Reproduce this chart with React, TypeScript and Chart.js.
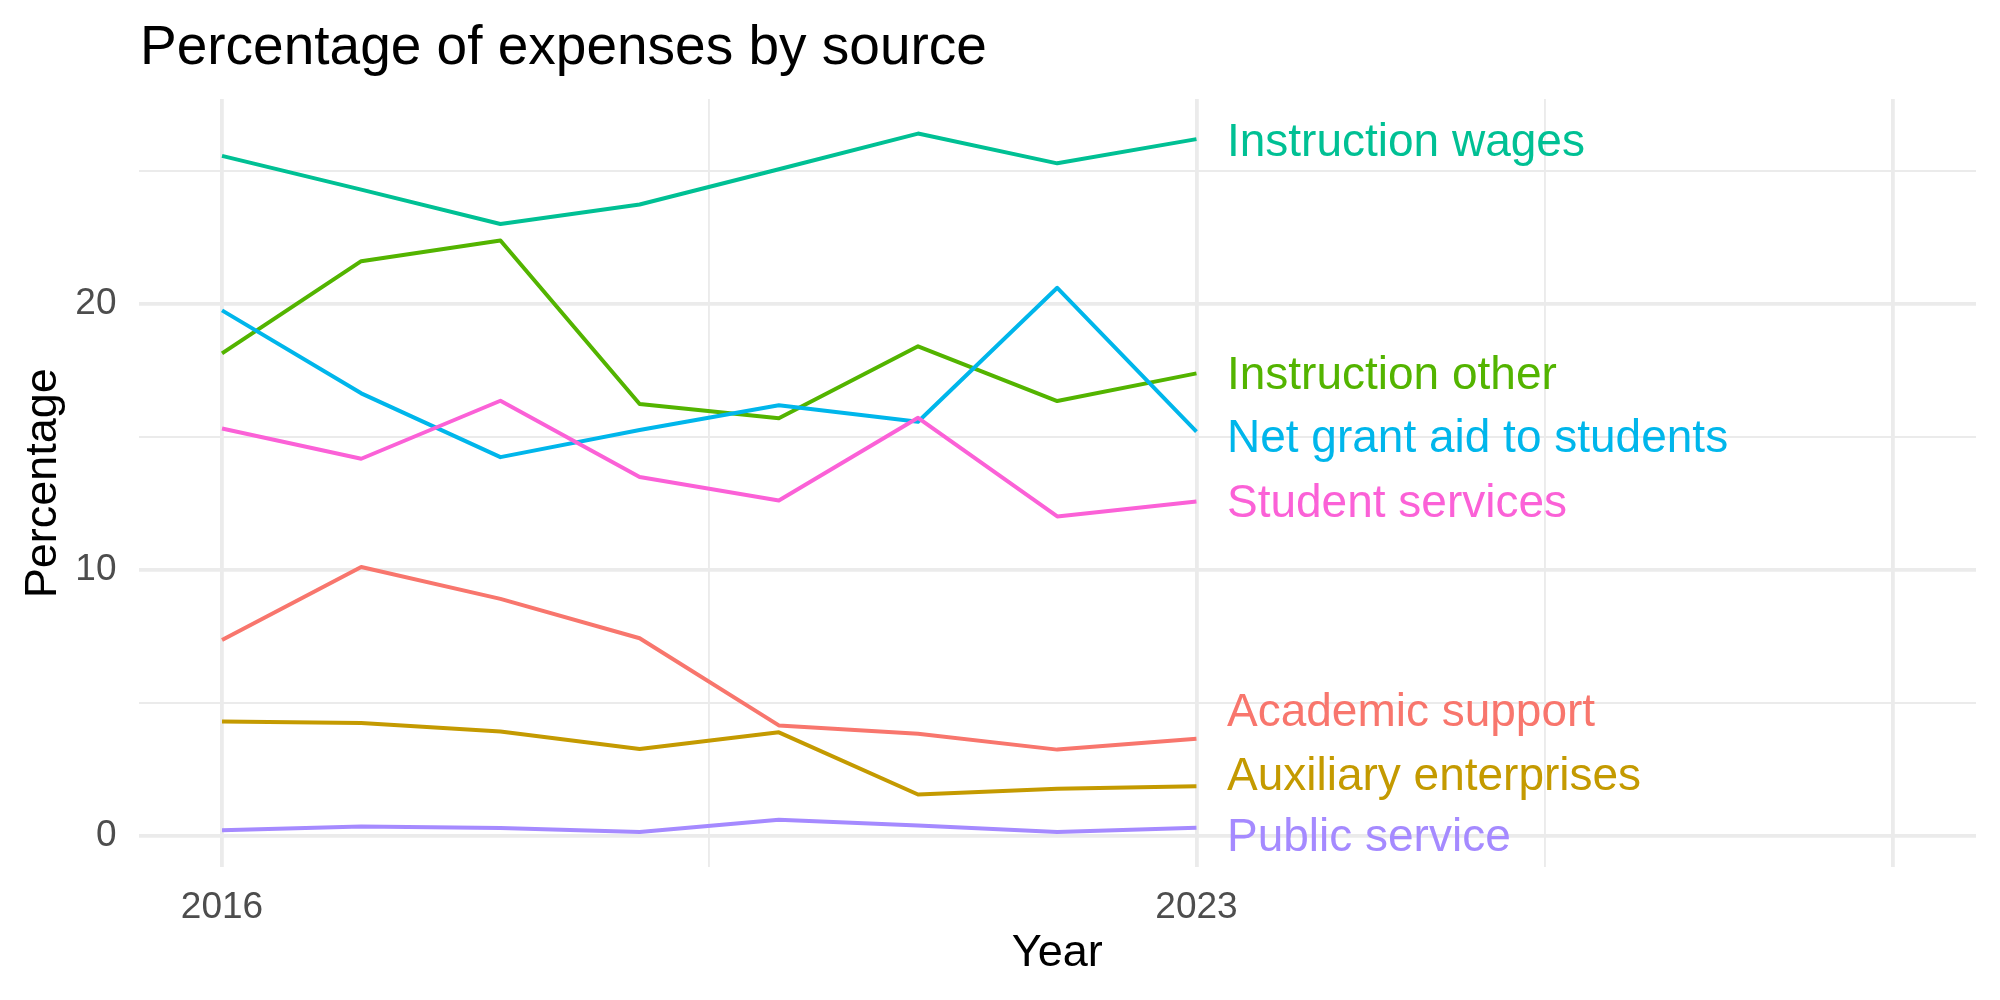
import React, { useEffect, useRef } from "react";
import { Chart, registerables } from "chart.js";

Chart.register(...registerables);

// ---- Data ----
const years = [2016, 2017, 2018, 2019, 2020, 2021, 2022, 2023];
const seriesNames = [
  "Academic support",
  "Auxiliary enterprises",
  "Instruction other",
  "Instruction wages",
  "Net grant aid to students",
  "Public service",
  "Student services",
];
const academicSupport = [7.35, 10.1, 8.9, 7.42, 4.14, 3.83, 3.23, 3.64];
const auxiliaryEnterprises = [4.29, 4.23, 3.91, 3.25, 3.88, 1.54, 1.76, 1.85];
const instructionOther = [18.13, 21.6, 22.38, 16.23, 15.69, 18.4, 16.34, 17.38];
const instructionWages = [25.56, 24.29, 23.0, 23.73, 25.06, 26.4, 25.28, 26.19];
const netGrantAid = [19.75, 16.63, 14.23, 15.25, 16.18, 15.56, 20.6, 15.19];
const publicService = [0.2, 0.34, 0.28, 0.13, 0.59, 0.38, 0.13, 0.29];
const studentServices = [15.31, 14.17, 16.35, 13.48, 12.6, 15.71, 12.0, 12.56];
const seriesValues = [
  academicSupport,
  auxiliaryEnterprises,
  instructionOther,
  instructionWages,
  netGrantAid,
  publicService,
  studentServices,
];
// repelled end-label positions (in data units)
const labelYValues = [4.73, 2.34, 17.42, 26.19, 15.06, 0.02, 12.61];
const labelYear = 2023;

const xTickLabels = [2016, 2023];
const xMajorBreaks = [2016, 2023, 2028];
const xMinorBreaks = [2019.5, 2025.5];
const yMajorBreaks = [0, 10, 20];
const yMinorBreaks = [5, 15, 25];

const titleText = "Percentage of expenses by source";
const xTitle = "Year";
const yTitle = "Percentage";

// ---- Styles ----
const colors = ["#F8766D", "#C49A00", "#53B400", "#00C094", "#00B6EB", "#A58AFF", "#FB61D7"];
const FONT = '"Liberation Sans", Arial, Helvetica, sans-serif';
const GRID = "#EBEBEB";

const labelPlugin = {
  id: "endLabels",
  afterDatasetsDraw(chart: any) {
    const { ctx, scales } = chart;
    const xs = scales.x;
    const ys = scales.y;
    ctx.save();
    const fs = 46;
    ctx.font = `${fs}px ${FONT}`;
    ctx.textAlign = "left";
    ctx.textBaseline = "alphabetic";
    seriesNames.forEach((name, i) => {
      const x = xs.getPixelForValue(labelYear) + 30.5;
      const y = ys.getPixelForValue(labelYValues[i]) + fs * 0.716 / 2;
      ctx.fillStyle = colors[i];
      ctx.fillText(name, x, y);
    });
    ctx.restore();
  },
};

const titlePlugin = {
  id: "plotTitle",
  afterDraw(chart: any) {
    const { ctx, chartArea } = chart;
    ctx.save();
    ctx.font = `55px ${FONT}`;
    ctx.fillStyle = "#000000";
    ctx.textAlign = "left";
    ctx.textBaseline = "alphabetic";
    ctx.fillText(titleText, chartArea.left + 1.5, 64);
    ctx.restore();
  },
};

export default function App() {
  const ref = useRef<HTMLCanvasElement | null>(null);

  useEffect(() => {
    if (!ref.current) return;
    Chart.defaults.font.family = FONT;
    const datasets = seriesNames.map((name, i) => ({
      label: name,
      data: years.map((yr, j) => ({ x: yr, y: seriesValues[i][j] })),
      borderColor: colors[i],
      backgroundColor: colors[i],
      borderWidth: 4,
      pointRadius: 0,
      tension: 0,
      fill: false,
      order: seriesNames.length - 1 - i,
      borderJoinStyle: "round" as const,
    }));

    const chart = new Chart(ref.current, {
      type: "line",
      data: { datasets },
      options: {
        animation: false,
        responsive: false,
        devicePixelRatio: 1,
        layout: { padding: { left: 0, top: 99, right: 24, bottom: 0 } },
        plugins: {
          legend: { display: false },
          tooltip: { enabled: false },
          title: { display: false },
        },
        scales: {
          x: {
            type: "linear",
            min: 2015.4,
            max: 2028.6,
            afterBuildTicks: (scale: any) => {
              scale.ticks = [...xMajorBreaks, ...xMinorBreaks]
                .sort((a, b) => a - b)
                .map((v) => ({ value: v }));
            },
            afterFit: (scale: any) => {
              scale.height = 132.6;
            },
            border: { display: false },
            grid: {
              color: GRID,
              drawTicks: false,
              lineWidth: (c: any) =>
                c.tick && xMajorBreaks.includes(c.tick.value) ? 3.8 : 1.9,
            },
            ticks: {
              autoSkip: false,
              maxRotation: 0,
              minRotation: 0,
              padding: 18,
              color: "#4D4D4D",
              font: { size: 37, family: FONT },
              callback: (v: any) => (xTickLabels.includes(Number(v)) ? String(v) : ""),
            },
            title: {
              display: true,
              text: xTitle,
              color: "#000000",
              font: { size: 45, family: FONT },
              padding: { top: 0, bottom: 19 },
            },
          },
          y: {
            type: "linear",
            min: -1.2,
            max: 27.7,
            afterBuildTicks: (scale: any) => {
              scale.ticks = [...yMajorBreaks, ...yMinorBreaks]
                .sort((a, b) => a - b)
                .map((v) => ({ value: v }));
            },
            afterFit: (scale: any) => {
              scale.width = 138.5;
            },
            border: { display: false },
            grid: {
              color: GRID,
              drawTicks: false,
              lineWidth: (c: any) =>
                c.tick && yMajorBreaks.includes(c.tick.value) ? 3.8 : 1.9,
            },
            ticks: {
              autoSkip: false,
              padding: 22,
              color: "#4D4D4D",
              font: { size: 37, family: FONT },
              callback: (v: any) => (yMajorBreaks.includes(Number(v)) ? String(v) : ""),
            },
            title: {
              display: true,
              text: yTitle,
              color: "#000000",
              font: { size: 45, family: FONT },
              padding: { top: 17, bottom: 0 },
            },
          },
        },
      },
      plugins: [labelPlugin, titlePlugin],
    });
    return () => chart.destroy();
  }, []);

  return (
    <div style={{ position: "absolute", left: 0, top: 0, width: 2000, height: 1000, background: "#ffffff" }}>
      <canvas ref={ref} width={2000} height={1000} style={{ display: "block", width: 2000, height: 1000 }} />
    </div>
  );
}
